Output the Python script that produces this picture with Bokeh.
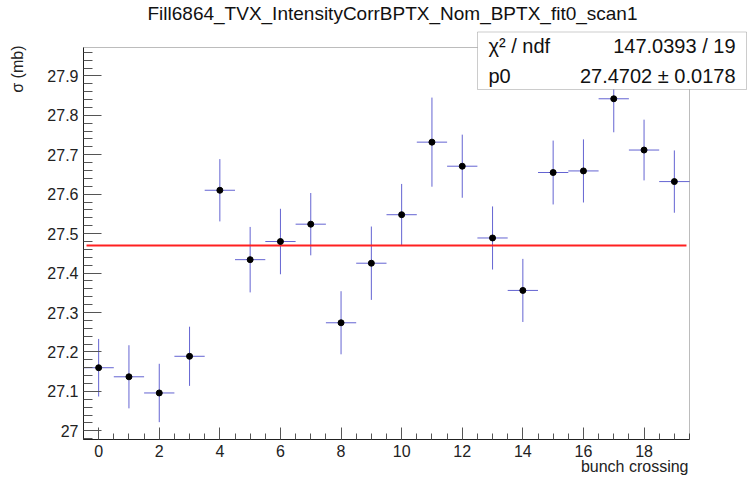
import math
from bokeh.plotting import figure
from bokeh.models import (ColumnDataSource, SingleIntervalTicker, CustomJSTickFormatter,
                          Label, BoxAnnotation, Range1d)
from bokeh.embed import file_html
from bokeh.resources import INLINE

# ---- data ----
bunch = list(range(20))
sigma = [27.160, 27.137, 27.096, 27.189, 27.610, 27.434, 27.480, 27.524, 27.274, 27.425,
         27.548, 27.732, 27.671, 27.489, 27.356, 27.655, 27.659, 27.842, 27.712, 27.632]
sigma_err = [0.073, 0.080, 0.074, 0.075, 0.079, 0.083, 0.083, 0.079, 0.080, 0.093,
             0.078, 0.113, 0.080, 0.080, 0.080, 0.081, 0.080, 0.085, 0.077, 0.079]
bin_half_width = 0.5
fit_p0 = 27.4702
fit_x = [-0.4, 19.4]
x_lo, x_hi = -0.5, 19.5          # histogram axis range
y_lo, y_hi = 26.978, 27.972      # drawn y range
title_text = "Fill6864_TVX_IntensityCorrBPTX_Nom_BPTX_fit0_scan1"
x_title = "bunch crossing"
y_title = "\u03c3 (mb)"
stat_rows = [("\u03c7\u00b2 / ndf", "147.0393 / 19"), ("p0", "27.4702 \u00b1 0.0178")]

FONT = "Liberation Sans"
W, H = 747, 478
PL, PR, PT, PB = 83, 689, 47, 439  # pad frame edges in canvas px

# frame covers the whole canvas; axes are drawn at fixed locations
xs = (x_hi - x_lo) / (PR - PL)
ys = (y_hi - y_lo) / (PB - PT)
x_range = Range1d(x_lo - PL * xs, x_hi + (W - PR) * xs)
y_range = Range1d(y_lo - (H - PB) * ys, y_hi + PT * ys)

src = ColumnDataSource(dict(
    x=bunch, y=sigma,
    xl=[b - bin_half_width for b in bunch], xr=[b + bin_half_width for b in bunch],
    yl=[s - e for s, e in zip(sigma, sigma_err)], yh=[s + e for s, e in zip(sigma, sigma_err)],
))

p = figure(width=W, height=H, output_backend="svg", toolbar_location=None,
           x_range=x_range, y_range=y_range,
           min_border_left=0, min_border_right=0, min_border_top=0, min_border_bottom=0)
p.background_fill_color = "white"
p.border_fill_color = "white"
p.outline_line_color = None
p.xgrid.visible = False
p.ygrid.visible = False

# pad frame box
p.add_layout(BoxAnnotation(left=x_lo, right=x_hi, bottom=y_lo, top=y_hi,
                           fill_alpha=0, line_color="#222222", line_width=1))

p.segment("xl", "y", "xr", "y", source=src, line_color="#6464d2", line_width=1)
p.segment("x", "yl", "x", "yh", source=src, line_color="#6464d2", line_width=1)
p.line(fit_x, [fit_p0, fit_p0], line_color="#ff2020", line_width=2)
p.scatter("x", "y", source=src, size=6, fill_color="black", line_color="black")

# axes
xa = p.xaxis[0]
xa.fixed_location = y_lo
xa.bounds = (x_lo, x_hi)
xa.ticker = SingleIntervalTicker(interval=2, num_minor_ticks=4)
xa.major_tick_in = 12
xa.major_tick_out = 0
xa.minor_tick_in = 6
xa.minor_tick_out = 0
xa.major_label_standoff = 5
ya = p.yaxis[0]
ya.fixed_location = x_lo
ya.bounds = (y_lo, y_hi)
ya.ticker = SingleIntervalTicker(interval=0.1, num_minor_ticks=5)
ya.formatter = CustomJSTickFormatter(code="return String(Number(tick.toFixed(1)));")
ya.major_tick_in = 18
ya.major_tick_out = 0
ya.minor_tick_in = 9
ya.minor_tick_out = 0
ya.major_label_standoff = 5
for ax in (xa, ya):
    ax.axis_line_color = "#222222"
    ax.major_tick_line_color = "#555555"
    ax.minor_tick_line_color = "#555555"
    ax.major_label_text_font = FONT
    ax.major_label_text_font_size = "16px"
    ax.major_label_text_color = "#222222"

def sy(top):
    return H - top

p.add_layout(Label(x=392, y=sy(13), x_units="screen", y_units="screen", text=title_text,
                   text_font=FONT, text_font_size="19px", text_align="center",
                   text_baseline="middle", text_color="#111111"))
p.add_layout(Label(x=17, y=sy(45), x_units="screen", y_units="screen", text=y_title,
                   angle=math.pi / 2, text_font=FONT, text_font_size="16px", text_align="right",
                   text_baseline="middle", text_color="#222222"))
p.add_layout(Label(x=688, y=sy(466), x_units="screen", y_units="screen", text=x_title,
                   text_font=FONT, text_font_size="16px", text_align="right",
                   text_baseline="middle", text_color="#222222"))

p.add_layout(BoxAnnotation(left=477, right=746, top=sy(31.5), bottom=sy(89),
                           left_units="screen", right_units="screen", top_units="screen",
                           bottom_units="screen", fill_color="white", fill_alpha=1.0,
                           line_color="#555555", line_width=1, level="overlay"))
for i, (k, v) in enumerate(stat_rows):
    yy = sy(45 + 30.5 * i)
    p.add_layout(Label(x=488, y=yy, x_units="screen", y_units="screen", text=k,
                       text_font=FONT, text_font_size="20px", text_align="left",
                       text_baseline="middle", text_color="#111111", level="overlay"))
    p.add_layout(Label(x=735, y=yy, x_units="screen", y_units="screen", text=v,
                       text_font=FONT, text_font_size="20px", text_align="right",
                       text_baseline="middle", text_color="#111111", level="overlay"))

open("out.html", "w").write(file_html(p, INLINE))
